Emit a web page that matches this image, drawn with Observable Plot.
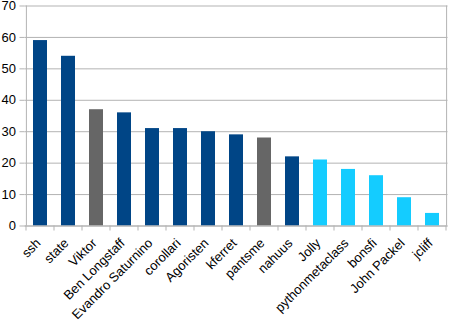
<!DOCTYPE html>
<html>
<head>
<meta charset="utf-8">
<script src="https://cdn.jsdelivr.net/npm/d3@7"></script>
<script src="https://cdn.jsdelivr.net/npm/@observablehq/plot@0.6"></script>
<style>
  html, body { margin: 0; padding: 0; background: #fff; }
  svg { display: block; }
</style>
</head>
<body>
<div id="chart"></div>
<script>
const names = ["ssh", "state", "Viktor", "Ben Longstaff", "Evandro Saturnino", "corollari", "Agoristen", "kferret", "pantsme", "nahuus", "Jolly", "pythonmetaclass", "bonsfi", "John Packel", "jcliff"];
const values = [59, 54, 37, 36, 31, 31, 30, 29, 28, 22, 21, 18, 16, 9, 4];
const groups = ["a", "a", "b", "a", "a", "a", "a", "a", "b", "a", "c", "c", "c", "c", "c"];
const yTicks = [0, 10, 20, 30, 40, 50, 60, 70];
const groupDomain = ["a", "b", "c"];
const groupColors = ["#004586", "#666666", "#14ccff"];

const data = names.map((n, i) => ({name: n, value: values[i], group: groups[i]}));

// tick marks at band boundaries below the x axis, using the x scale
function boundaryTicks() {
  return (index, scales, values, dimensions) => {
    const x = scales.x;
    const step = x.step();
    const bw = x.bandwidth();
    const g = d3.create("svg:g").attr("stroke", "#b3b3b3").attr("stroke-width", 1);
    const y0 = dimensions.height - dimensions.marginBottom;
    const xs = names.map(n => x(n) + bw / 2 - step / 2);
    xs.push(x(names[names.length - 1]) + bw / 2 + step / 2);
    for (const xx of xs) {
      g.append("line").attr("x1", xx).attr("x2", xx).attr("y1", y0).attr("y2", y0 + 5);
    }
    return g.node();
  };
}

const chart = Plot.plot({
  width: 449,
  height: 322,
  marginLeft: 24.5,
  marginRight: 1.5,
  marginTop: 5.5,
  marginBottom: 96.5,
  style: {fontFamily: "'Liberation Sans', Arial, sans-serif", fontSize: "12px", color: "#000", background: "#fff"},
  x: {domain: names, paddingInner: 0.5, paddingOuter: 0.25, label: null},
  y: {domain: [0, 70], label: null},
  color: {domain: groupDomain, range: groupColors},
  marks: [
    Plot.gridY(yTicks, {stroke: "#b3b3b3", strokeOpacity: 1}),
    Plot.ruleX([names[0]], {stroke: "#b3b3b3", dx: -14.1}),
    Plot.ruleX([names[names.length - 1]], {stroke: "#b3b3b3", dx: 14.1}),
    Plot.barY(data, {x: "name", y: "value", fill: "group"}),
    Plot.ruleY([0], {stroke: "#b3b3b3"}),
    Plot.axisY(yTicks, {tickSize: 5, stroke: "#b3b3b3", tickPadding: 4, fontSize: 13, fill: "#000", label: null}),
    Plot.axisX({tickSize: 0, tickRotate: -45, tickPadding: 15, dx: -2, fontSize: 13, fill: "#000", label: null}),
    boundaryTicks()
  ]
});
document.getElementById("chart").appendChild(chart);
</script>
</body>
</html>
